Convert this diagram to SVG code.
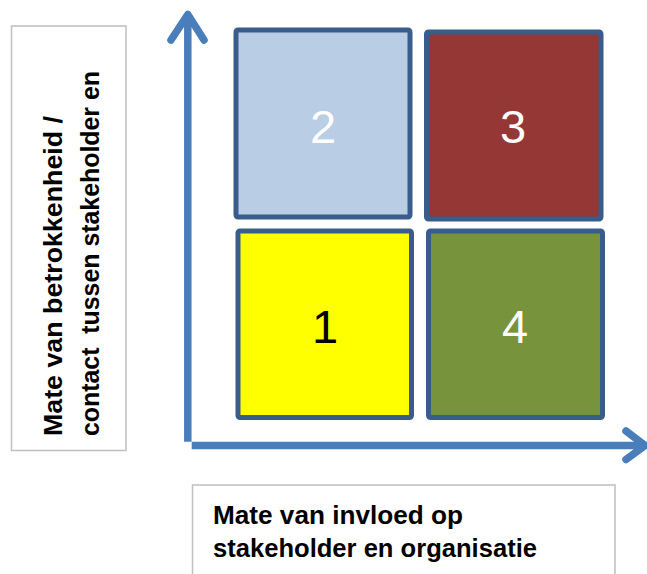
<svg xmlns="http://www.w3.org/2000/svg" width="647" height="574" viewBox="0 0 647 574">
<style>
.q{stroke:#385D8A;stroke-width:5;}
.num{font-family:"Liberation Sans",Arial,sans-serif;font-size:47px;text-anchor:middle;}
.lbl{font-family:"Liberation Sans",Arial,sans-serif;font-weight:bold;font-size:25px;fill:#000;}
.box{fill:#fff;stroke:#BFBFBF;stroke-width:1.5;}
.ax{stroke:#4A7EBB;stroke-width:7.5;fill:none;}
</style>
<rect width="647" height="574" fill="#fff"/>
<g id="ylabel">
<rect class="box" x="11.5" y="26" width="114.5" height="424.5"/>
<g transform="translate(62,436) rotate(-90)">
<text class="lbl" x="0" y="0" font-size="27" textLength="320" lengthAdjust="spacingAndGlyphs">Mate van betrokkenheid /</text>
<text class="lbl" x="0" y="37" font-size="27" textLength="365" lengthAdjust="spacingAndGlyphs" xml:space="preserve">contact  tussen stakeholder en</text>
</g>
</g>
<g id="xlabel">
<rect class="box" x="192.5" y="485" width="422.5" height="100"/>
<text class="lbl" x="213" y="524" textLength="250" lengthAdjust="spacingAndGlyphs">Mate van invloed op</text>
<text class="lbl" x="213" y="557" textLength="324" lengthAdjust="spacingAndGlyphs">stakeholder en organisatie</text>
</g>
<g id="connectors">
<line class="ax" x1="187.8" y1="16" x2="187.8" y2="441.7"/>
<polyline class="ax" points="171,40 187.8,14.5 204,40" stroke-linecap="round" stroke-linejoin="round"/>
<line class="ax" x1="191.7" y1="445.5" x2="644" y2="445.5"/>
<polyline class="ax" points="626,431 645,445.5 626,459.5" stroke-linecap="round" stroke-linejoin="round"/>
</g>
<g id="q2">
<rect class="q" x="236" y="30" width="174" height="187" rx="2" fill="#B9CDE5"/>
<text class="num" x="323" y="142.5" fill="#fff">2</text>
</g>
<g id="q3">
<rect class="q" x="426.5" y="32" width="174.5" height="187" rx="2" fill="#953735"/>
<text class="num" x="513" y="143" fill="#fff">3</text>
</g>
<g id="q1">
<rect class="q" x="238" y="231" width="173.5" height="186.5" rx="2" fill="#FFFF00"/>
<text class="num" x="325" y="342.5" fill="#000">1</text>
</g>
<g id="q4">
<rect class="q" x="428.5" y="231" width="174" height="186.5" rx="2" fill="#77933C"/>
<text class="num" x="515" y="343" fill="#fff">4</text>
</g>
</svg>
